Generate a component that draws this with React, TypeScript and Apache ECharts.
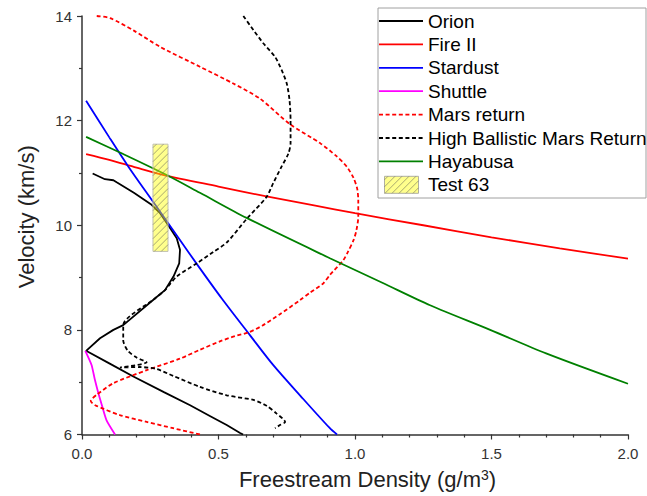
import React, { useEffect, useRef } from "react";
import * as echarts from "echarts";

type Pt = [number, number];

// Freestream density (g/m^3) vs velocity (km/s) trajectories
const orion: Pt[] = [
  [0.039, 10.99], [0.084, 10.88], [0.115, 10.86], [0.127, 10.82], [0.19, 10.62],
  [0.255, 10.39], [0.286, 10.23], [0.316, 10.0], [0.347, 9.75], [0.359, 9.53],
  [0.356, 9.27], [0.335, 9.02], [0.304, 8.76], [0.267, 8.6], [0.151, 8.09],
  [0.115, 8.0], [0.066, 7.84], [0.015, 7.6], [0.1, 7.36], [0.188, 7.11],
  [0.3, 6.81], [0.396, 6.56], [0.47, 6.35], [0.53, 6.18], [0.579, 6.03], [0.59, 6.0],
];
const fireII: Pt[] = [
  [0.015, 11.36], [0.1, 11.25], [0.2, 11.1], [0.3, 10.96], [0.5, 10.74], [0.676, 10.55],
  [0.85, 10.38], [1.0, 10.23], [1.25, 10.0], [1.5, 9.77], [1.75, 9.56], [2.0, 9.36],
];
const stardust: Pt[] = [
  [0.015, 12.38], [0.1, 11.68], [0.17, 11.12], [0.267, 10.4], [0.353, 9.76], [0.43, 9.19],
  [0.512, 8.6], [0.615, 7.9], [0.7, 7.33], [0.8, 6.74], [0.908, 6.12], [0.934, 6.0],
];
const shuttle: Pt[] = [
  [0.012, 7.6], [0.035, 7.33], [0.047, 7.05], [0.06, 6.79], [0.075, 6.52], [0.09, 6.27], [0.121, 6.0],
];
const marsReturn: Pt[] = [
  [0.054, 14.0], [0.103, 13.96], [0.19, 13.72], [0.286, 13.41], [0.432, 13.03], [0.554, 12.71],
  [0.652, 12.42], [0.762, 11.93], [0.872, 11.57], [0.93, 11.33], [0.97, 11.12], [0.995, 10.9],
  [1.008, 10.7], [1.012, 10.48], [1.012, 10.16], [1.005, 9.9], [0.995, 9.72], [0.975, 9.5],
  [0.957, 9.33], [0.908, 9.05], [0.884, 8.89], [0.835, 8.71], [0.799, 8.57], [0.725, 8.3],
  [0.66, 8.08], [0.609, 7.95], [0.56, 7.88], [0.505, 7.78], [0.432, 7.62], [0.359, 7.45],
  [0.237, 7.23], [0.115, 6.98], [0.054, 6.76], [0.032, 6.64], [0.048, 6.56], [0.139, 6.37],
  [0.237, 6.24], [0.334, 6.12], [0.432, 6.0],
];
const highBallistic: Pt[] = [
  [0.591, 14.0], [0.628, 13.73], [0.664, 13.48], [0.707, 13.22], [0.731, 12.97], [0.75, 12.71],
  [0.76, 12.4], [0.764, 12.01], [0.764, 11.57], [0.756, 11.37], [0.731, 11.12], [0.7, 10.8],
  [0.676, 10.54], [0.603, 10.12], [0.53, 9.67], [0.481, 9.49], [0.42, 9.27], [0.347, 9.02],
  [0.304, 8.76], [0.267, 8.6], [0.151, 8.09], [0.151, 7.8], [0.168, 7.6], [0.2, 7.47],
  [0.237, 7.38], [0.139, 7.28], [0.212, 7.29], [0.274, 7.25], [0.334, 7.12], [0.432, 6.91],
  [0.53, 6.75], [0.628, 6.66], [0.676, 6.55], [0.713, 6.4], [0.744, 6.24], [0.725, 6.18], [0.707, 6.12],
];
const hayabusa: Pt[] = [
  [0.015, 11.69], [0.139, 11.39], [0.31, 10.96], [0.432, 10.62], [0.603, 10.14], [0.908, 9.37],
  [1.1, 8.9], [1.275, 8.47], [1.495, 8.0], [1.7, 7.55], [2.0, 6.97],
];
// Test 63 condition box: density range x velocity range
const test63Density = [0.26, 0.315];
const test63Velocity = [9.5, 11.55];

const xTicks = { min: 0, max: 2, interval: 0.5 };
const yTicks = { min: 6, max: 14, interval: 2 };

const FONT = "'Liberation Sans', Arial, sans-serif";

const lineSeries = [
  { name: "Orion", data: orion, color: "#000000", dashed: false, smooth: false },
  { name: "Fire II", data: fireII, color: "#ff0000", dashed: false, smooth: 0.3 },
  { name: "Stardust", data: stardust, color: "#0000ff", dashed: false, smooth: 0.3 },
  { name: "Shuttle", data: shuttle, color: "#ff00ff", dashed: false, smooth: 0.2 },
  { name: "Mars return", data: marsReturn, color: "#ff0000", dashed: true, smooth: 0.25 },
  { name: "High Ballistic Mars Return", data: highBallistic, color: "#000000", dashed: true, smooth: 0.25 },
  { name: "Hayabusa", data: hayabusa, color: "#008000", dashed: false, smooth: 0.3 },
];

const DASH = [4, 2.6];
const LINE_W = 1.8;

// Diagonal "/" hatch segments inside a pixel rectangle
function hatchSegments(left: number, top: number, w: number, h: number, step: number) {
  const segs: number[][][] = [];
  for (let k = left + top + step / 2; k < left + w + top + h; k += step) {
    const xa = Math.max(left, k - (top + h));
    const xb = Math.min(left + w, k - top);
    if (xb > xa) segs.push([[xa, k - xa], [xb, k - xb]]);
  }
  return segs;
}

const HATCH_FILL = "rgba(255,255,0,0.45)";
const HATCH_STROKE = "rgba(110,110,90,0.75)";

function legendGraphics() {
  const elements: any[] = [];
  const boxX = 378, boxY = 8, boxW = 268, boxH = 190;
  elements.push({
    type: "rect",
    shape: { x: boxX, y: boxY, width: boxW, height: boxH },
    style: { fill: "#ffffff", stroke: "#a0a0a0", lineWidth: 1 },
    z: 100,
  });
  const rowTop = 21, rowStep = 23.4;
  lineSeries.forEach((s, i) => {
    const y = rowTop + i * rowStep;
    elements.push({
      type: "line",
      shape: { x1: 379, y1: y, x2: 423, y2: y },
      style: { stroke: s.color, lineWidth: LINE_W, lineDash: s.dashed ? DASH : null },
      z: 101,
    });
    elements.push({
      type: "text",
      x: 428,
      y,
      style: {
        text: s.name, fill: "#000", font: `19px ${FONT}`,
        textVerticalAlign: "middle", verticalAlign: "middle",
      },
      z: 101,
    });
  });
  const y = rowTop + 7 * rowStep;
  const rx = 384.5, ry = y - 8.5, rw = 34, rh = 17;
  elements.push({
    type: "rect",
    shape: { x: rx, y: ry, width: rw, height: rh },
    style: { fill: HATCH_FILL, stroke: "#b0b0a0", lineWidth: 1 },
    z: 101,
  });
  hatchSegments(rx, ry, rw, rh, 7).forEach((seg) => {
    elements.push({
      type: "line",
      shape: { x1: seg[0][0], y1: seg[0][1], x2: seg[1][0], y2: seg[1][1] },
      style: { stroke: HATCH_STROKE, lineWidth: 0.8 },
      z: 102,
    });
  });
  elements.push({
    type: "text",
    x: 428,
    y,
    style: {
      text: "Test 63", fill: "#000", font: `19px ${FONT}`,
      textVerticalAlign: "middle", verticalAlign: "middle",
    },
    z: 101,
  });
  return elements;
}

export default function App() {
  const ref = useRef<HTMLDivElement>(null);

  useEffect(() => {
    if (!ref.current) return;
    const chart = echarts.init(ref.current, null, { renderer: "svg" });

    const axisCommon = {
      axisLine: { show: true, onZero: false, lineStyle: { color: "#333", width: 1.5 } },
      axisTick: { show: true, inside: false, length: 5, lineStyle: { color: "#333", width: 1.2 } },
      minorTick: { show: true, length: 3, lineStyle: { color: "#333", width: 1.2 } },
      splitLine: { show: false },
      minorSplitLine: { show: false },
    };

    const option: any = {
      animation: false,
      backgroundColor: "#ffffff",
      grid: { left: 82, top: 16, width: 546, height: 418.5, containLabel: false },
      xAxis: {
        type: "value",
        ...xTicks,
        ...axisCommon,
        minorTick: { ...axisCommon.minorTick, splitNumber: 5 },
        axisLabel: {
          color: "#333", fontSize: 15, fontFamily: FONT, margin: 11,
          formatter: (v: number) => v.toFixed(1),
        },
        name: "{t|Freestream Density (g/m}{s|3}{t|)}",
        nameLocation: "middle",
        nameGap: 33,
        nameTextStyle: {
          padding: [0, 0, 0, 25],
          rich: {
            t: { fontSize: 22, fontFamily: FONT, color: "#222" },
            s: { fontSize: 14, fontFamily: FONT, color: "#222", verticalAlign: "top", padding: [0, 0, 9, 0] },
          },
        },
      },
      yAxis: {
        type: "value",
        ...yTicks,
        ...axisCommon,
        minorTick: { ...axisCommon.minorTick, splitNumber: 2 },
        axisLabel: { color: "#333", fontSize: 15, fontFamily: FONT, margin: 10 },
        name: "Velocity (km/s)",
        nameLocation: "middle",
        nameGap: 45,
        nameTextStyle: { fontSize: 22, fontFamily: FONT, color: "#222", padding: [0, 0, 0, 17] },
      },
      series: [
        ...lineSeries.map((s) => ({
          type: "line",
          name: s.name,
          data: s.data,
          showSymbol: false,
          symbol: "none",
          smooth: s.smooth,
          clip: true,
          lineStyle: { color: s.color, width: LINE_W, type: s.dashed ? DASH : "solid" },
          z: 2,
        })),
        {
          type: "custom",
          name: "Test 63",
          data: [[test63Density[0], test63Velocity[0], test63Density[1], test63Velocity[1]]],
          encode: { x: [0, 2], y: [1, 3] },
          z: 5,
          renderItem: (_params: any, api: any) => {
            const a = api.coord([api.value(0), api.value(3)]);
            const b = api.coord([api.value(2), api.value(1)]);
            const left = a[0], top = a[1], w = b[0] - a[0], h = b[1] - a[1];
            const children: any[] = [
              {
                type: "rect",
                shape: { x: left, y: top, width: w, height: h },
                style: { fill: HATCH_FILL, stroke: "#c0c0b0", lineWidth: 1 },
              },
            ];
            hatchSegments(left, top, w, h, 7).forEach((seg) => {
              children.push({
                type: "line",
                shape: { x1: seg[0][0], y1: seg[0][1], x2: seg[1][0], y2: seg[1][1] },
                style: { stroke: HATCH_STROKE, lineWidth: 0.8 },
              });
            });
            return { type: "group", children };
          },
        },
      ],
      graphic: legendGraphics(),
    };

    chart.setOption(option);
    return () => chart.dispose();
  }, []);

  return (
    <div
      ref={ref}
      style={{ position: "fixed", left: 0, top: 0, width: 647, height: 496, background: "#fff" }}
    />
  );
}
